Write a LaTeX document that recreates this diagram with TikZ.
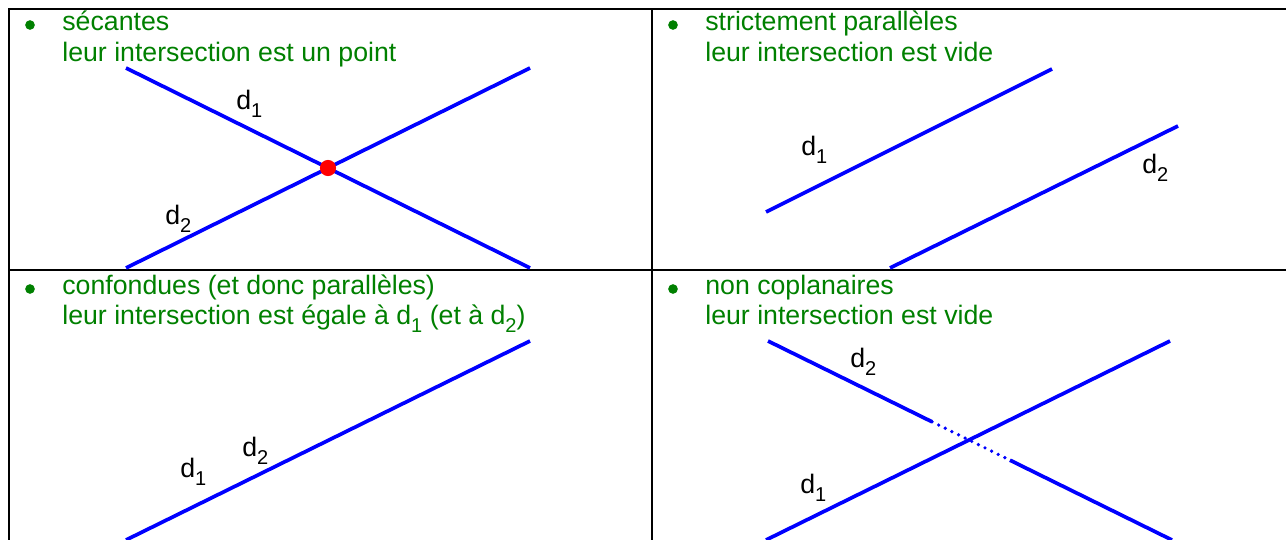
\documentclass[tikz,border=0pt]{standalone}
\usepackage{fontspec}
\setmainfont{Liberation Sans}
\usetikzlibrary{calc}
\definecolor{vert}{RGB}{0,128,0}
\newcommand{\indice}[1]{\raisebox{-4pt}{\fontsize{11.4}{12}\selectfont #1}}
\begin{document}
\begin{tikzpicture}[x=0.02cm,y=-0.02cm,
  cadre/.style={line width=1.2pt},
  droite/.style={blue, line width=2.1pt},
  pointille/.style={droite, line cap=round, dash pattern=on 0pt off 4.2pt},
  titre/.style={vert, anchor=base west, inner sep=0pt, font=\fontsize{15.2}{17.6}\selectfont},
  puce/.style={circle, fill=vert, inner sep=0pt, minimum size=5.5pt},
  nom/.style={anchor=base west, inner sep=0pt, font=\fontsize{15.2}{17.6}\selectfont}]
\useasboundingbox (0,0) rectangle (1286,540);
% tableau
\draw[cadre] (1286,9) -| (9,540);
\draw[cadre] (652,9) -- (652,540);
\draw[cadre] (9,270) -- (1286,270);
% secantes
\node[puce] (p1) at (30,25) {};
\node[titre] (t1a) at (62,31) {sécantes};
\node[titre] (t1b) at (62,62) {leur intersection est un point};
\coordinate (a1) at (126,68); \coordinate (a2) at (530,268);
\coordinate (a3) at (126,268); \coordinate (a4) at (530,68);
\draw[droite] (a1) -- (a2);
\draw[droite] (a3) -- (a4);
\fill[red] (328,168) circle (4.6pt);
\node[nom] (n1a) at (236,110) {d\indice{1}};
\node[nom] (n1b) at (165,225) {d\indice{2}};
% strictement paralleles
\node[puce] (p2) at (673,25) {};
\node[titre] (t2a) at (705,31) {strictement parallèles};
\node[titre] (t2b) at (705,62) {leur intersection est vide};
\coordinate (b1) at (766,212); \coordinate (b2) at (1052,69);
\coordinate (b3) at (890,268); \coordinate (b4) at (1178,126);
\draw[droite] (b1) -- (b2);
\draw[droite] (b3) -- (b4);
\node[nom] (n2a) at (801,156) {d\indice{1}};
\node[nom] (n2b) at (1142,174) {d\indice{2}};
% confondues
\node[puce] (p3) at (30,289) {};
\node[titre] (t3a) at (62,295) {confondues (et donc parallèles)};
\node[titre] (t3b) at (62,325) {leur intersection est égale à d\indice{1} (et à d\indice{2})};
\coordinate (c1) at (126,540); \coordinate (c2) at (530,341);
\draw[droite] (c1) -- (c2);
\node[nom] (n3a) at (180,478) {d\indice{1}};
\node[nom] (n3b) at (242,457) {d\indice{2}};
% non coplanaires
\node[puce] (p4) at (673,289) {};
\node[titre] (t4a) at (705,295) {non coplanaires};
\node[titre] (t4b) at (705,325) {leur intersection est vide};
\coordinate (e1) at (766,540); \coordinate (e2) at (1170,341);
\coordinate (f1) at (768,341); \coordinate (f2) at (1172,540);
\coordinate (m1) at ($(f1)!0.406!(f2)$); \coordinate (m2) at ($(f1)!0.599!(f2)$);
\draw[droite] (e1) -- (e2);
\draw[droite] (f1) -- (m1);
\draw[pointille] (m1) -- (m2);
\draw[droite] (m2) -- (f2);
\node[nom] (n4a) at (800,494) {d\indice{1}};
\node[nom] (n4b) at (850,368) {d\indice{2}};
\end{tikzpicture}
\end{document}
